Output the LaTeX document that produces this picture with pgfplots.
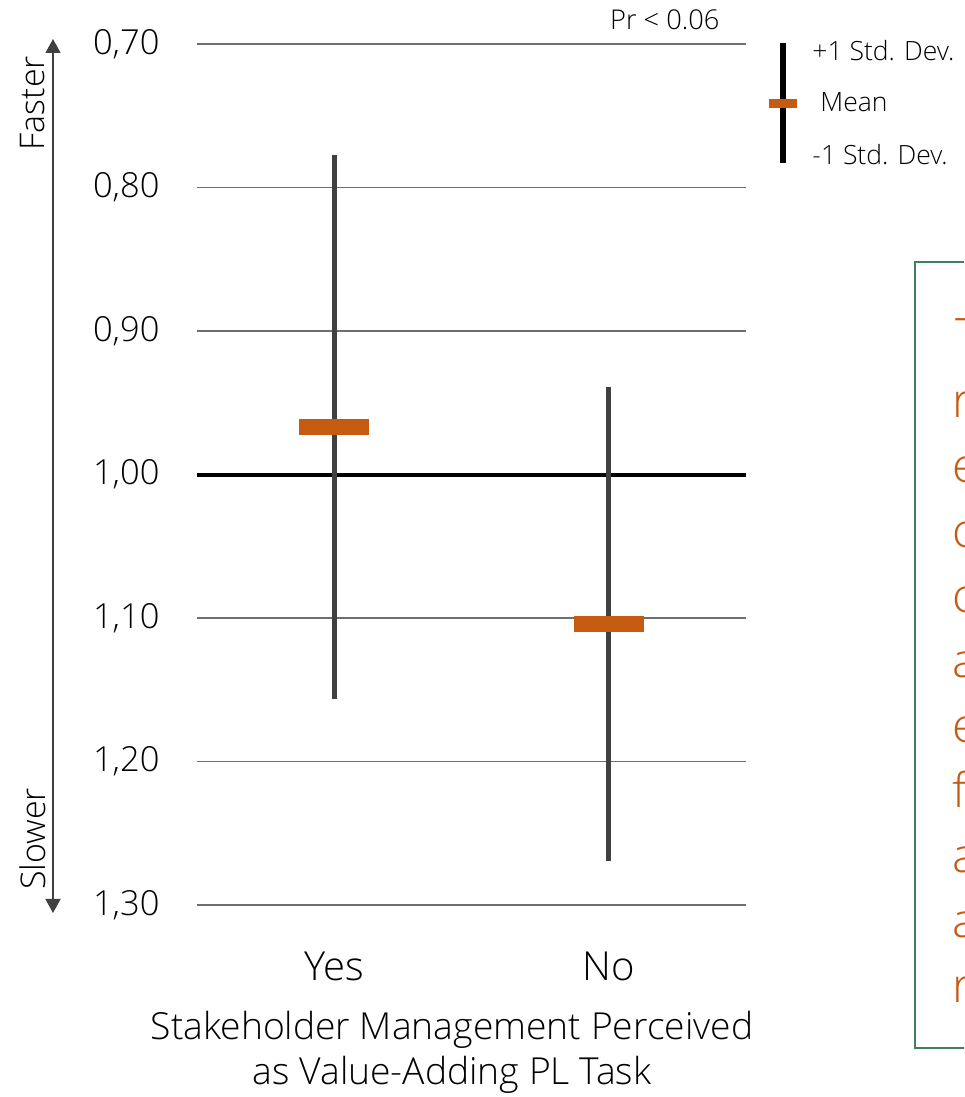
\documentclass[border=0pt]{standalone}
\usepackage{pgfplots}
\pgfplotsset{compat=1.18}
\usepackage{fontspec}
\IfFontExistsTF{Open Sans Light}{\setmainfont{Open Sans Light}}{\setmainfont{Open Sans}}
\usetikzlibrary{arrows.meta}
\definecolor{meanorange}{RGB}{197,90,17}
\definecolor{whisk}{RGB}{64,64,64}
\definecolor{gridc}{RGB}{110,110,110}
\definecolor{boxgreen}{RGB}{60,130,95}
\begin{document}
\begin{tikzpicture}
\useasboundingbox (0pt,0pt) rectangle (385.6pt,-438.8pt);
\clip (0pt,0pt) rectangle (385.6pt,-438.8pt);
\begin{axis}[
  at={(78.8pt,-362pt)}, anchor=south west,
  scale only axis, width=219.6pt, height=344.4pt,
  xmin=-0.5, xmax=1.5, ymin=0.7, ymax=1.3, y dir=reverse,
  xtick={0,1}, xticklabels={Yes,No},
  ytick={0.7,0.8,0.9,1.0,1.1,1.2,1.3},
  ymajorgrids, xmajorgrids=false,
  grid style={draw=gridc, line width=0.45pt},
  axis line style={draw=none}, major tick style={draw=none},
  yticklabel style={font=\fontsize{13.8}{16}\selectfont, anchor=east, inner sep=0pt, xshift=-14.8pt},
  xticklabel style={font=\fontsize{16}{19}\selectfont, anchor=base, inner sep=0pt, yshift=-30pt},
  /pgf/number format/.cd, use comma, fixed, fixed zerofill, precision=2, assume math mode=true,
  /pgfplots/.cd, clip=false
]
\addplot[black, line width=1.6pt] coordinates {(-0.5,1.0) (1.5,1.0)};
\addplot[draw=whisk, line width=2pt] coordinates {(0,0.7775) (0,1.1565)};
\addplot[draw=whisk, line width=2pt] coordinates {(1,0.939) (1,1.269)};
\addplot[only marks, mark=-, mark size=14pt, mark options={line width=6.4pt, draw=meanorange}] coordinates {(0,0.967) (1,1.104)};
\end{axis}
\begin{scope}[x=0.4pt, y=-0.4pt]
  % x label
  \node[anchor=base, inner sep=0pt, font=\fontsize{14.9}{17}\selectfont] at (452,1040) {Stakeholder Management Perceived};
  \node[anchor=base, inner sep=0pt, font=\fontsize{14.9}{17}\selectfont] at (452,1085) {as Value-Adding PL Task};
  % p value
  \node[anchor=base east, inner sep=0pt, font=\fontsize{10.9}{13}\selectfont] at (720,30) {Pr < 0.06};
  % legend
  \draw[black, line width=2.4pt] (783,43) -- (783,163);
  \fill[meanorange] (769,99) rectangle (797,108);
  \node[anchor=base west, inner sep=0pt, font=\fontsize{10.6}{12}\selectfont] at (812,61) {+1 Std. Dev.};
  \node[anchor=base west, inner sep=0pt, font=\fontsize{10.6}{12}\selectfont] at (820,112) {Mean};
  \node[anchor=base west, inner sep=0pt, font=\fontsize{10.6}{12}\selectfont] at (812,165) {-1 Std. Dev.};
  % faster / slower arrow
  \draw[whisk, line width=0.6pt, {Triangle[width=6pt,length=5.6pt]}-{Triangle[width=6pt,length=5.6pt]}] (53,39) -- (53,913);
  \node[rotate=90, inner sep=0pt, font=\fontsize{13.6}{16}\selectfont] at (33,103) {Faster};
  \node[rotate=90, inner sep=0pt, font=\fontsize{13.6}{16}\selectfont] at (33,839) {Slower};
  % text box (cut off at right edge)
  \draw[boxgreen, line width=0.5pt] (915,262) rectangle (1010,1048);
  \node[anchor=base west, inner sep=0pt, text=meanorange, font=\fontsize{19}{24}\selectfont] at (955,353) {T};
  \foreach \l [count=\i from 1] in {r,e,c,c,a,e,f,a,a,r}
    \node[anchor=base west, inner sep=0pt, text=meanorange, font=\fontsize{19}{24}\selectfont] at (952,353+65*\i) {\l};
\end{scope}
\end{tikzpicture}
\end{document}
